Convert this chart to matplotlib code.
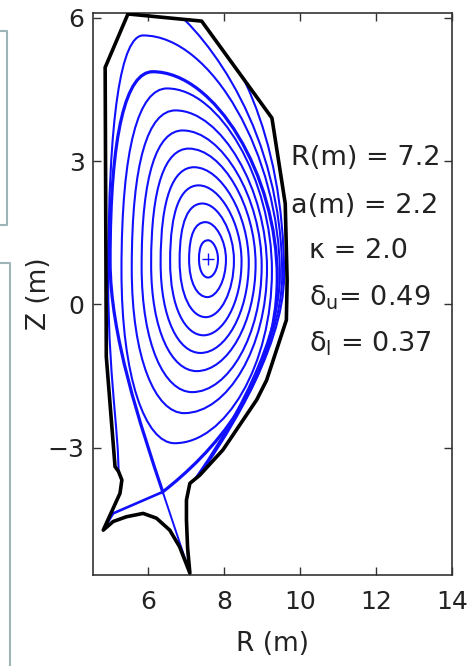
import matplotlib
matplotlib.use('Agg')
import matplotlib.pyplot as plt
from matplotlib.path import Path
from matplotlib.patches import PathPatch, Polygon
from matplotlib.lines import Line2D

plt.rcParams['font.family'] = 'DejaVu Sans'
plt.rcParams['mathtext.fontset'] = 'dejavusans'
plt.rcParams['mathtext.default'] = 'regular'

# plasma shape parameters of the separatrix
R_MAJOR = 7.2
A_MINOR = 2.2
KAPPA = 2.0
DELTA_U = 0.49
DELTA_L = 0.37
Z_XPOINT = -3.93

mag_axis_r = 7.58
mag_axis_z = 0.94

# first wall (R, Z) in metres
wall_r = [5.47, 7.41, 9.26, 9.61, 9.66, 9.64, 9.12, 8.86, 7.97, 7.36, 7.10, 7.01, 7.01,
          7.04, 7.10, 6.83, 6.57, 6.22, 5.87, 5.43, 5.08, 4.82, 5.26, 5.31, 5.22, 5.13,
          4.90, 4.87, 5.47]
wall_z = [6.08, 5.93, 3.90, 2.11, 0.50, -0.33, -1.59, -2.00, -3.05, -3.58, -3.75, -4.10, -4.52,
          -5.10, -5.63, -5.08, -4.73, -4.48, -4.38, -4.45, -4.55, -4.73, -3.96, -3.68, -3.50, -3.40,
          -1.10, 4.96, 6.08]

# closed flux surfaces, innermost first
surf_r_in = [7.34, 7.08, 6.83, 6.58, 6.33, 6.08, 5.83, 5.57, 5.30]
surf_r_out = [7.84, 8.05, 8.26, 8.46, 8.65, 8.83, 8.99, 9.13, 9.26]
surf_z_mid = [0.95, 0.94, 0.92, 0.90, 0.87, 0.84, 0.80, 0.75, 0.70]
surf_r_top = [7.58, 7.51, 7.43, 7.33, 7.21, 7.07, 6.91, 6.72, 6.50]
surf_z_top = [1.34, 1.72, 2.11, 2.49, 2.87, 3.26, 3.64, 4.06, 4.52]
surf_r_bot = [7.58, 7.56, 7.52, 7.46, 7.38, 7.28, 7.16, 6.95, 6.70]
surf_z_bot = [0.56, 0.15, -0.27, -0.65, -1.02, -1.40, -1.84, -2.28, -2.91]

# scrape-off layer line hugging the inner wall
sol1_r_in = 4.95
sol1_r_top, sol1_z_top = 5.87, 5.63
sol1_r_out = 9.47

# scrape-off layer lines entering through the top wall: start point and midplane radius
sol_r_start = [6.55, 7.15]
sol_z_start = [6.25, 6.20]
sol_r_out = [9.53, 9.58]

# divertor legs from the X-point to the targets
leg_in_r = [5.08, 4.84]
leg_in_z = [-4.38, -4.69]
leg_out_r = [7.10]
leg_out_z = [-5.63]

M, C = Path.MOVETO, Path.CURVE4
blue = '#1010ff'
LW = 1.5


def upper_half(r_in, r_out, zm_in, zm_out, r_top, z_top):
    """Outer midplane -> top -> inner midplane, D-shaped."""
    return [(r_out, zm_out),
            (r_out, zm_out + 0.5 * (z_top - zm_out)), (r_top + 0.5 * (r_out - r_top), z_top),
            (r_top, z_top),
            (r_top - 0.62 * (r_top - r_in), z_top), (r_in, zm_in + 0.68 * (z_top - zm_in)),
            (r_in, zm_in)]


def lower_outer(r_out, zm, r_end, z_end):
    """Outer midplane down to the right-hand divertor arm."""
    return [(r_out, zm - 1.6), (r_end + 0.6, z_end + 0.65), (r_end, z_end),
            (r_end - 0.15, z_end - 0.16), (7.02, -5.0), (7.08, -5.9)]


def closed_surface(r_in, r_out, zm, r_top, z_top, r_bot, z_bot):
    v = upper_half(r_in, r_out, zm, zm, r_top, z_top)
    v += [(r_in, zm - 0.62 * (zm - z_bot)), (r_bot - 0.55 * (r_bot - r_in), z_bot), (r_bot, z_bot),
          (r_bot + 0.52 * (r_out - r_bot), z_bot), (r_out, zm - 0.55 * (zm - z_bot)), (r_out, zm)]
    return Path(v, [M] + [C] * 12)


fig = plt.figure(figsize=(4.75, 6.66), dpi=100)
ax = fig.add_axes([93 / 475, 91 / 666, 359 / 475, 562 / 666])

wall = Polygon(list(zip(wall_r, wall_z)), closed=True, fill=False, edgecolor='black',
               lw=2.6, joinstyle='round', zorder=5)
ax.add_patch(wall)
clip = Polygon(list(zip(wall_r, wall_z)), closed=True, transform=ax.transData)

for i in range(len(surf_r_in)):
    p = closed_surface(surf_r_in[i], surf_r_out[i], surf_z_mid[i], surf_r_top[i],
                       surf_z_top[i], surf_r_bot[i], surf_z_bot[i])
    ax.add_patch(PathPatch(p, fill=False, edgecolor=blue, lw=LW, zorder=3))

# separatrix from the quoted shape parameters
sep_in = R_MAJOR - A_MINOR
sep_out = R_MAJOR + A_MINOR
sep_r_top = R_MAJOR - DELTA_U * A_MINOR
sep_r_x = R_MAJOR - DELTA_L * A_MINOR
sep_z_top = Z_XPOINT + 2 * KAPPA * A_MINOR
zm_in, zm_out = 0.9, 0.55
v = upper_half(sep_in, sep_out, zm_in, zm_out, sep_r_top, sep_z_top)
v += [(sep_in, zm_in - 0.32 * (zm_in - Z_XPOINT)),
      (sep_r_x - 0.387 * 1.5, Z_XPOINT + 0.922 * 1.5), (sep_r_x, Z_XPOINT),
      (sep_r_x + 0.85 * 1.5, Z_XPOINT + 0.53 * 1.5), (sep_out, zm_out - 0.5 * (zm_out - Z_XPOINT)),
      (sep_out, zm_out)]
ax.add_patch(PathPatch(Path(v, [M] + [C] * 12), fill=False, edgecolor=blue, lw=2.3, zorder=4))

ax.plot([sep_r_x] + leg_in_r, [Z_XPOINT] + leg_in_z, color=blue, lw=1.9, zorder=4,
        solid_capstyle='round')
ax.plot([sep_r_x] + leg_out_r, [Z_XPOINT] + leg_out_z, color=blue, lw=1.4, zorder=4)

# scrape-off layer, clipped by the wall
sol_paths = []
v = [(5.18, -3.95), (5.35, -3.2), (sol1_r_in, -1.8), (sol1_r_in, 0.5)]
v += upper_half(sol1_r_in, sol1_r_out, 0.5, 0.6, sol1_r_top, sol1_z_top)[::-1][1:]
v += lower_outer(sol1_r_out, 0.6, 7.15, -3.75)
sol_paths.append(v)
for i in range(len(sol_r_start)):
    v = [(sol_r_start[i], sol_z_start[i]), (sol_r_start[i] + 1.05, sol_z_start[i] - 0.65),
         (sol_r_out[i], 3.6), (sol_r_out[i], 0.6)]
    v += lower_outer(sol_r_out[i], 0.6, 7.2 + 0.05 * i, -3.72 + 0.03 * i)
    sol_paths.append(v)
for v in sol_paths:
    pp = PathPatch(Path(v, [M] + [C] * (len(v) - 1)), fill=False, edgecolor=blue, lw=LW, zorder=3)
    ax.add_patch(pp)
    pp.set_clip_path(clip)

ax.plot(mag_axis_r, mag_axis_z, marker='+', ms=9, mew=1.0, color=blue, zorder=6)

ax.set_xlim(4.55, 14)
ax.set_ylim(-5.67, 6.1)
ax.set_xticks([6, 8, 10, 12, 14])
ax.set_yticks([-3, 0, 3, 6])
ax.set_yticklabels(['\u22123', '0', '3', '6'])
ax.tick_params(direction='in', top=True, right=True, length=6, width=1, labelsize=18,
               colors='#333333', labelcolor='#222222')
ax.tick_params(axis='x', pad=11)
ax.tick_params(axis='y', pad=6)
for s in ax.spines.values():
    s.set_color('#333333')
    s.set_linewidth(1.2)
ax.set_xlabel('R (m)', fontsize=19, color='#222222', labelpad=12)
ax.set_ylabel('Z (m)', fontsize=19, color='#222222', labelpad=-3)

labels = ['R(m) = %.1f' % R_MAJOR, 'a(m) = %.1f' % A_MINOR, '\u03ba = %.1f' % KAPPA,
          r'$\mathregular{\delta_u}$= %.2f' % DELTA_U, r'$\mathregular{\delta_l}$ = %.2f' % DELTA_L]
xs = [291, 291, 309, 309, 309]
ys = [165, 213, 258, 305, 352]
for s, x, y in zip(labels, xs, ys):
    fig.text(x / 475, 1 - y / 666, s, fontsize=19.5, color='#222222', ha='left', va='baseline')

# slide frame remnants at the left edge
frame = '#9fb4b6'
fig.add_artist(Line2D([0, 7 / 475, 7 / 475, 0], [1 - 31 / 666, 1 - 31 / 666, 1 - 225 / 666, 1 - 225 / 666],
                      color=frame, lw=1.5))
fig.add_artist(Line2D([0, 10 / 475, 10 / 475], [1 - 263 / 666, 1 - 263 / 666, 0], color=frame, lw=1.5))

fig.savefig('out.png', dpi=100)
